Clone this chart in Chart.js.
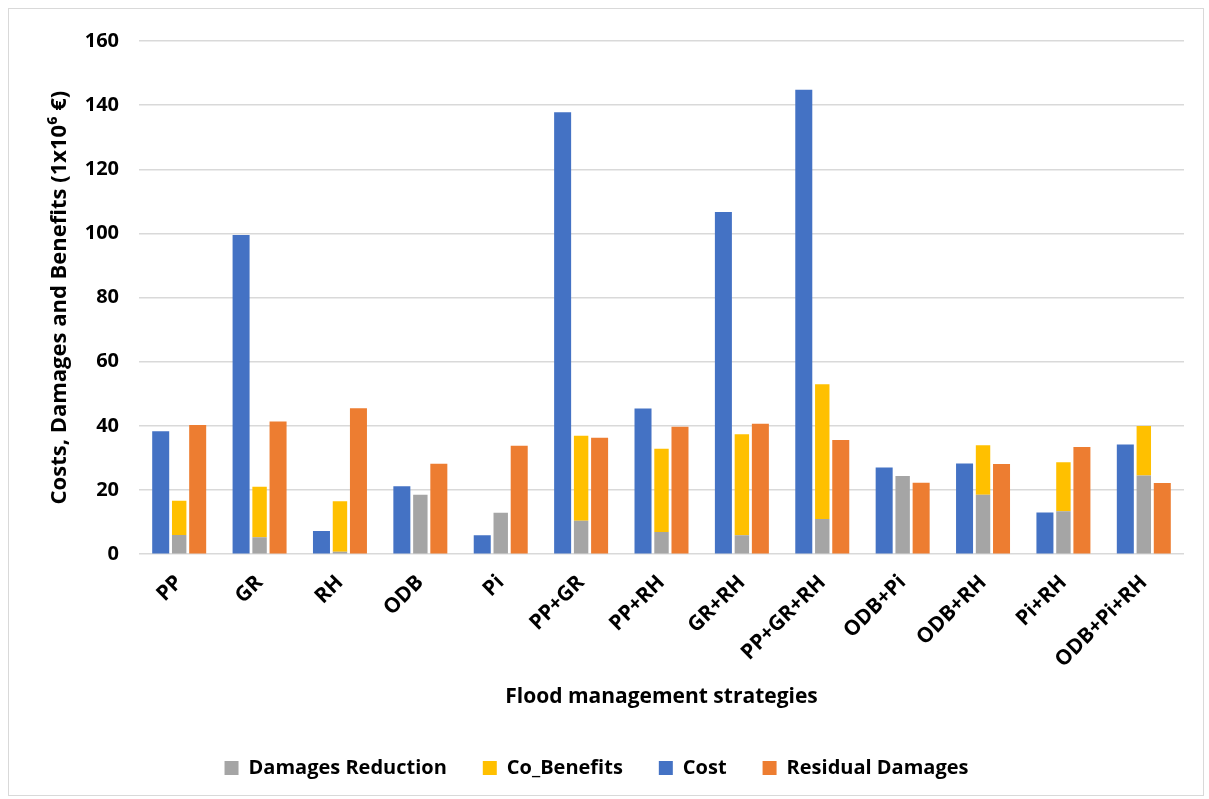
<!DOCTYPE html>
<html>
<head>
<meta charset="utf-8">
<script src="https://cdn.jsdelivr.net/npm/chart.js@4/dist/chart.umd.min.js"></script>
<style>
  html, body { margin: 0; padding: 0; background: #fff; }
  #box { position: absolute; left: 8px; top: 8px; width: 1194px; height: 786px; border: 1px solid #d9d9d9; }
</style>
</head>
<body>
<div id="box"><canvas id="chart"></canvas></div>
<script>
const strategies = ["PP", "GR", "RH", "ODB", "Pi", "PP+GR", "PP+RH", "GR+RH", "PP+GR+RH", "ODB+Pi", "ODB+RH", "Pi+RH", "ODB+Pi+RH"];
const cost = [38.3, 99.5, 7.2, 21.2, 5.9, 137.8, 45.4, 106.7, 144.8, 27.0, 28.3, 13.0, 34.2];
const damagesReduction = [6.0, 5.3, 0.8, 18.5, 12.9, 10.4, 6.9, 5.9, 11.0, 24.4, 18.5, 13.4, 24.5];
const coBenefits = [10.7, 15.7, 15.7, 0, 0, 26.5, 26.0, 31.5, 42.0, 0, 15.5, 15.3, 15.5];
const residualDamages = [40.3, 41.4, 45.5, 28.2, 33.8, 36.3, 39.7, 40.7, 35.6, 22.3, 28.1, 33.4, 22.2];
const yTicks = [0, 20, 40, 60, 80, 100, 120, 140, 160];

const fontFamily = "'Open Sans', 'Noto Sans', sans-serif";
const legendOrder = ["Damages Reduction", "Co_Benefits", "Cost", "Residual Damages"];

const ctx = document.getElementById("chart").getContext("2d");
new Chart(ctx, {
  type: "bar",
  data: {
    labels: strategies,
    datasets: [
      { label: "Cost", data: cost, backgroundColor: "#4472c4", stack: "a", barPercentage: 0.92 },
      { label: "Damages Reduction", data: damagesReduction, backgroundColor: "#a5a5a5", stack: "b", barPercentage: 0.78 },
      { label: "Co_Benefits", data: coBenefits, backgroundColor: "#ffc000", stack: "b", barPercentage: 0.78 },
      { label: "Residual Damages", data: residualDamages, backgroundColor: "#ed7d31", stack: "c", barPercentage: 0.92 }
    ]
  },
  options: {
    responsive: true,
    maintainAspectRatio: false,
    animation: false,
    layout: { padding: { left: 0, right: 19, top: 7, bottom: 7 } },
    datasets: { bar: { categoryPercentage: 0.69 } },
    plugins: {
      tooltip: { enabled: false },
      legend: {
        position: "bottom",
        labels: {
          boxWidth: 14,
          boxHeight: 14,
          padding: 36,
          color: "#000",
          font: { family: fontFamily, size: 20, weight: "bold" },
          sort: (a, b) => legendOrder.indexOf(a.text) - legendOrder.indexOf(b.text)
        }
      }
    },
    scales: {
      x: {
        stacked: true,
        grid: { display: false },
        border: { display: false },
        ticks: {
          color: "#000",
          minRotation: 45,
          maxRotation: 45,
          padding: 8,
          font: { family: fontFamily, size: 21, weight: "bold" }
        },
        title: {
          display: true,
          text: "Flood management strategies",
          color: "#000",
          padding: { top: 4, bottom: 12 },
          font: { family: fontFamily, size: 21, weight: "bold" }
        }
      },
      y: {
        stacked: true,
        min: 0,
        max: 160,
        afterBuildTicks: axis => { axis.ticks = yTicks.map(v => ({ value: v })); },
        afterFit: axis => { axis.width = 130; },
        grid: { color: "#d9d9d9", lineWidth: 1.5, drawTicks: false },
        border: { display: false },
        ticks: {
          color: "#000",
          padding: 20,
          font: { family: fontFamily, size: 20, weight: "bold" }
        },
        title: {
          display: true,
          text: "Costs, Damages and Benefits (1x10\u2076 \u20ac)",
          color: "#000",
          padding: { top: 38, bottom: 0 },
          font: { family: fontFamily, size: 22, weight: "bold" }
        }
      }
    }
  }
});
</script>
</body>
</html>
